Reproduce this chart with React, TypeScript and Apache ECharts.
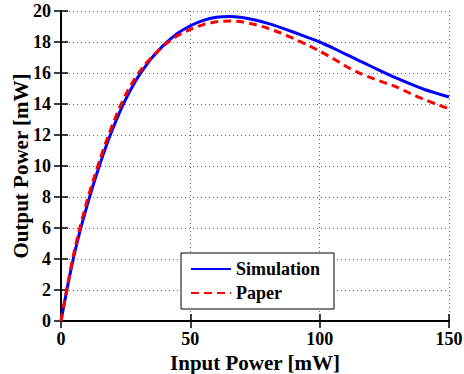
import React, { useEffect, useRef } from "react";
import * as echarts from "echarts";

const xValues = [0, 2.5, 5, 7.5, 10, 12.5, 15, 17.5, 20, 22.5, 25, 27.5, 30, 32.5, 35, 40, 45, 50, 55, 60, 65, 70, 75, 80, 85, 90, 95, 100, 105, 110, 115, 120, 125, 130, 135, 140, 145, 150];
const simulation = [0, 2.2, 4.2, 5.9, 7.4, 8.8, 10.1, 11.3, 12.4, 13.4, 14.3, 15.1, 15.8, 16.4, 16.95, 17.85, 18.55, 19.05, 19.4, 19.6, 19.65, 19.58, 19.42, 19.2, 18.93, 18.63, 18.32, 18.0, 17.62, 17.22, 16.82, 16.42, 16.03, 15.65, 15.3, 14.97, 14.7, 14.45];
const paper = [0, 2.3, 4.4, 6.15, 7.7, 9.1, 10.4, 11.6, 12.7, 13.7, 14.6, 15.35, 16.0, 16.55, 17.0, 17.8, 18.4, 18.82, 19.12, 19.3, 19.36, 19.3, 19.13, 18.88, 18.58, 18.22, 17.83, 17.42, 16.95, 16.45, 16.02, 15.68, 15.38, 15.08, 14.68, 14.32, 14.0, 13.68];
const xTicks = { min: 0, max: 150, interval: 50 };
const yTicks = { min: 0, max: 20, interval: 2 };

const FONT = "'Liberation Serif', 'Times New Roman', serif";

export default function App() {
  const ref = useRef<HTMLDivElement>(null);
  useEffect(() => {
    document.body.style.margin = "0";
    if (!ref.current) return;
    const chart = echarts.init(ref.current, undefined, { renderer: "svg" });
    const axisLine = { show: true, lineStyle: { color: "#000", width: 2 } };
    const tick = { show: true, inside: true, length: 7, lineStyle: { color: "#000", width: 1.5 } };
    const split = { show: true, lineStyle: { color: "#666", width: 1, type: [1, 3] as any } };
    const label = { fontFamily: FONT, fontWeight: "bold" as const, fontSize: 18, color: "#000" };
    const nameStyle = { fontFamily: FONT, fontWeight: "bold" as const, fontSize: 21, color: "#000" };
    chart.setOption({
      animation: false,
      backgroundColor: "#fff",
      grid: { left: 61, right: 15, top: 11, bottom: 53, containLabel: false, outerBoundsMode: "none" },
      xAxis: [
        {
          type: "value", position: "bottom", ...xTicks,
          axisLine, axisTick: tick, splitLine: split,
          axisLabel: { ...label, margin: 9 },
          name: "Input Power [mW]", nameLocation: "middle", nameGap: 26,
          nameTextStyle: nameStyle,
        },
        {
          type: "value", position: "top", ...xTicks,
          axisLine, axisTick: tick, splitLine: { show: false }, axisLabel: { show: false },
        },
      ],
      yAxis: [
        {
          type: "value", position: "left", ...yTicks,
          axisLine, axisTick: tick, splitLine: split,
          axisLabel: { ...label, margin: 10 },
          name: "Output Power [mW]", nameLocation: "middle", nameGap: 30,
          nameMoveOverlap: false,
          nameTextStyle: nameStyle,
        },
        {
          type: "value", position: "right", ...yTicks,
          axisLine, axisTick: tick, splitLine: { show: false }, axisLabel: { show: false },
        },
      ],
      legend: {
        orient: "vertical", left: 181, top: 253,
        backgroundColor: "#fff", borderColor: "#000", borderWidth: 1, borderRadius: 0,
        padding: [7, 14, 7, 9], itemWidth: 40, itemHeight: 14, itemGap: 6,
        itemStyle: { opacity: 0 },
        textStyle: { fontFamily: FONT, fontWeight: "bold", fontSize: 18, color: "#000" },
        data: ["Simulation", "Paper"],
      },
      series: [
        {
          name: "Simulation", type: "line", showSymbol: false, symbol: "none", smooth: 0.2,
          lineStyle: { color: "#0000ff", width: 3 }, itemStyle: { color: "#0000ff" },
          data: xValues.map((x, i) => [x, simulation[i]]), z: 3,
        },
        {
          name: "Paper", type: "line", showSymbol: false, symbol: "none", smooth: 0.2,
          lineStyle: { color: "#ff0000", width: 3, type: [8, 5] as any }, itemStyle: { color: "#ff0000" },
          data: xValues.map((x, i) => [x, paper[i]]), z: 4,
        },
      ],
    });
    return () => chart.dispose();
  }, []);
  return <div ref={ref} style={{ width: 464, height: 374 }} />;
}
